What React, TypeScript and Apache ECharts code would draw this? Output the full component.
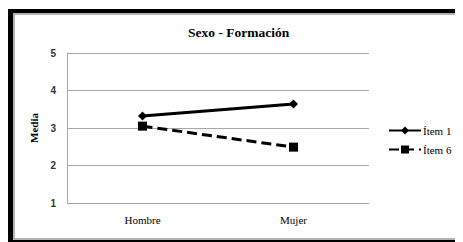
import React, { useEffect, useRef } from "react";
import * as echarts from "echarts";

const categories = ["Hombre", "Mujer"];
const item1 = [3.32, 3.64];
const item6 = [3.05, 2.49];
const seriesNames = ["Ítem 1", "Ítem 6"];
const titleText = "Sexo - Formación";
const yAxisName = "Media";

const SERIF = "'Liberation Serif', 'Times New Roman', serif";
const SANS = "'Liberation Sans', Arial, sans-serif";

export default function App() {
  const ref = useRef<HTMLDivElement>(null);
  useEffect(() => {
    if (!ref.current) return;
    const chart = echarts.init(ref.current, null, { renderer: "svg" });
    const W = 455, H = 234;
    chart.setOption({
      animation: false,
      backgroundColor: "#fff",
      title: {
        text: titleText,
        left: 180,
        top: 17,
        padding: 0,
        textStyle: { fontFamily: SERIF, fontWeight: "bold", fontSize: 13.5, color: "#000" },
      },
      grid: { left: 59, top: 45, width: 302, height: 150 },
      xAxis: {
        type: "category",
        data: categories,
        boundaryGap: true,
        axisLine: { show: false },
        axisTick: { show: false },
        axisLabel: { fontFamily: SERIF, fontSize: 11, color: "#000", margin: 11 },
      },
      yAxis: {
        type: "value",
        min: 1,
        max: 5,
        interval: 1,
        name: yAxisName,
        nameLocation: "middle",
        nameGap: 27,
        nameTextStyle: { fontFamily: SERIF, fontWeight: "bold", fontSize: 11, color: "#000" },
        axisLine: { show: true, lineStyle: { color: "#a6a6a6", width: 1 } },
        axisTick: { show: false },
        splitLine: { lineStyle: { color: "#a6a6a6", width: 1 } },
        axisLabel: { fontFamily: SANS, fontSize: 10, fontWeight: "bold", color: "#333", margin: 11 },
      },
      legend: {
        orient: "vertical",
        left: 375,
        top: 112,
        itemWidth: 32,
        itemHeight: 10,
        itemGap: 8,
        textStyle: { fontFamily: SERIF, fontSize: 11, color: "#000", padding: [0, 0, 0, -3] },
        data: seriesNames,
      },
      series: [
        {
          name: seriesNames[0],
          type: "line",
          data: item1,
          symbol: "diamond",
          symbolSize: 9,
          lineStyle: { color: "#000", width: 3, type: "solid" },
          itemStyle: { color: "#000" },
        },
        {
          name: seriesNames[1],
          type: "line",
          data: item6,
          symbol: "rect",
          symbolSize: 9,
          lineStyle: { color: "#000", width: 3, type: [10, 5] },
          itemStyle: { color: "#000" },
        },
      ],
      graphic: [
        { type: "rect", shape: { x: 0, y: 1, width: W, height: 4 }, style: { fill: "#000" }, silent: true },
        { type: "rect", shape: { x: 0, y: 1, width: 5, height: H }, style: { fill: "#000" }, silent: true },
        { type: "rect", shape: { x: W - 2.5, y: 1, width: 3, height: H }, style: { fill: "#000" }, silent: true },
        { type: "rect", shape: { x: 0, y: H - 2, width: W, height: 3 }, style: { fill: "#000" }, silent: true },
        {
          type: "rect",
          shape: { x: 6, y: 6, width: 445, height: 225 },
          style: { fill: "none", stroke: "#9a9a9a", lineWidth: 1.5 },
          silent: true,
        },
      ],
    });
    return () => chart.dispose();
  }, []);
  return <div ref={ref} style={{ width: 455, height: 234 }} />;
}
